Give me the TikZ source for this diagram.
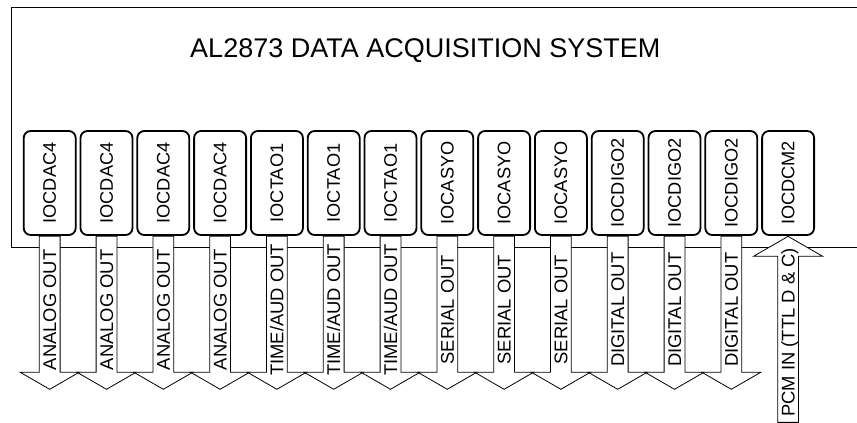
\documentclass[tikz,border=0pt]{standalone}
\usepackage{fontspec}
\setmainfont{Liberation Sans}
\usetikzlibrary{positioning, shapes.arrows}

\begin{document}
\begin{tikzpicture}[
    x=1pt,
    y=1pt,
    node distance=3pt,
    module/.style={
        draw,
        line width=1.8pt,
        rounded corners=7pt,
        minimum width=52pt,
        minimum height=104pt,
        inner sep=0pt,
        font=\fontsize{18.2}{21}\selectfont
    },
    outarrow/.style={
        draw,
        line width=0.8pt,
        fill=white,
        single arrow,
        single arrow tip angle=120,
        single arrow head extend=19pt,
        shape border rotate=180,
        rotate=90,
        minimum height=153pt,
        minimum width=58pt,
        text height=13.5pt,
        text depth=0.5pt,
        inner ysep=3pt,
        inner xsep=2pt,
        anchor=tail,
        font=\fontsize{18.4}{21}\selectfont
    },
    inarrow/.style={
        outarrow,
        single arrow head extend=24pt,
        shape border rotate=0,
        minimum height=186pt,
        minimum width=68pt,
        anchor=tip
    }
]

\useasboundingbox (0,0) rectangle (857,423);

% System box (open to the right)
\draw[line width=0.8pt] (860,416) -- (11.5,416) -- (11.5,175.5) -- (860,175.5);
\node[anchor=base, font=\fontsize{27}{31}\selectfont] (title) at (425.3,365.7)
{AL2873 DATA ACQUISITION SYSTEM};

% Interface modules
\node[module] (m1) at (49.7,240) {\rotatebox{90}{IOCDAC4}};
\node[module, right=of m1] (m2) {\rotatebox{90}{IOCDAC4}};
\node[module, right=of m2] (m3) {\rotatebox{90}{IOCDAC4}};
\node[module, right=of m3] (m4) {\rotatebox{90}{IOCDAC4}};
\node[module, right=of m4] (m5) {\rotatebox{90}{IOCTAO1}};
\node[module, right=of m5] (m6) {\rotatebox{90}{IOCTAO1}};
\node[module, right=of m6] (m7) {\rotatebox{90}{IOCTAO1}};
\node[module, right=of m7] (m8) {\rotatebox{90}{IOCASYO}};
\node[module, right=of m8] (m9) {\rotatebox{90}{IOCASYO}};
\node[module, right=of m9] (m10) {\rotatebox{90}{IOCASYO}};
\node[module, right=of m10] (m11) {\rotatebox{90}{IOCDIGO2}};
\node[module, right=of m11] (m12) {\rotatebox{90}{IOCDIGO2}};
\node[module, right=of m12] (m13) {\rotatebox{90}{IOCDIGO2}};
\node[module, right=of m13] (m14) {\rotatebox{90}{IOCDCM2}};

% Outputs
\node[outarrow] (out1) at (m1.south) {ANALOG OUT};
\node[outarrow] (out2) at (m2.south) {ANALOG OUT};
\node[outarrow] (out3) at (m3.south) {ANALOG OUT};
\node[outarrow] (out4) at (m4.south) {ANALOG OUT};
\node[outarrow] (out5) at (m5.south) {TIME/AUD OUT};
\node[outarrow] (out6) at (m6.south) {TIME/AUD OUT};
\node[outarrow] (out7) at (m7.south) {TIME/AUD OUT};
\node[outarrow] (out8) at (m8.south) {SERIAL OUT};
\node[outarrow] (out9) at (m9.south) {SERIAL OUT};
\node[outarrow] (out10) at (m10.south) {SERIAL OUT};
\node[outarrow] (out11) at (m11.south) {DIGITAL OUT};
\node[outarrow] (out12) at (m12.south) {DIGITAL OUT};
\node[outarrow] (out13) at (m13.south) {DIGITAL OUT};

% Input
\node[inarrow] (in14) at (m14.south) {PCM IN (TTL D \& C)};

\end{tikzpicture}
\end{document}
